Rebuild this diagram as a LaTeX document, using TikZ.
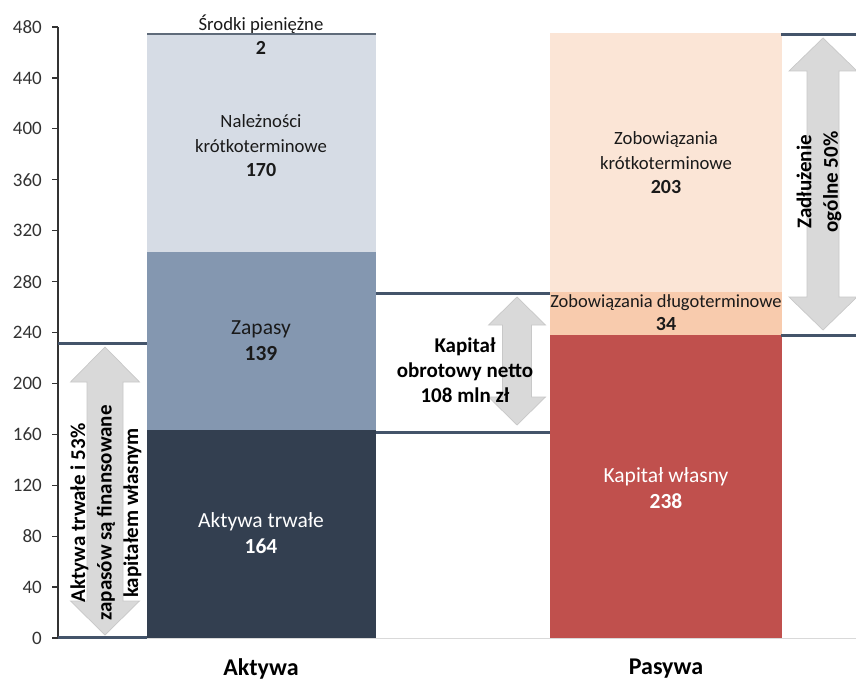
\documentclass[tikz,border=0pt]{standalone}
\usepackage{fontspec}
\setmainfont{Carlito}
\definecolor{atC}{HTML}{333F50}
\definecolor{zapC}{HTML}{8497B0}
\definecolor{nalC}{HTML}{D6DCE5}
\definecolor{srC}{HTML}{5F6B7A}
\definecolor{kwC}{HTML}{C0504D}
\definecolor{zdC}{HTML}{F8CBAD}
\definecolor{zkC}{HTML}{FBE5D6}
\definecolor{lnC}{HTML}{44546A}
\definecolor{arC}{HTML}{D9D9D9}
\definecolor{arB}{HTML}{C8C8C8}
\definecolor{txC}{HTML}{1A1A1A}
\definecolor{baseC}{HTML}{D9D9D9}
\newcommand{\valS}[1]{{\bfseries\fontsize{20}{24.5}\selectfont #1}}
\begin{document}
\begin{tikzpicture}[x=1pt,y=-1pt,
  lbl/.style={align=center,font=\fontsize{18.7}{24.5}\selectfont,text=txC,inner sep=0pt},
  biglbl/.style={align=center,font=\fontsize{21.5}{26}\selectfont,text=txC,inner sep=0pt},
  wlbl/.style={biglbl,text=white},
  arrtxt/.style={align=center,font=\bfseries\fontsize{21}{26.5}\selectfont,text=black,inner sep=0pt},
  cat/.style={font=\bfseries\fontsize{24}{26}\selectfont,text=black,inner sep=0pt},
  tick/.style={anchor=east,font=\fontsize{19}{22}\selectfont,text=black!80,inner sep=0pt},
  refline/.style={draw=lnC,line width=3pt},
  blockarrow/.style={fill=arC,draw=arB,line width=0.7pt,line join=miter}]
\useasboundingbox (0,0) rectangle (856,682);
\fill[white] (0,0) rectangle (856,682);

% baseline
\coordinate (b0) at (58,638);
\coordinate (b1) at (856,638);
\draw[baseC,line width=1pt] (b0) -- (b1);

% axis
\coordinate (ax0) at (58,638);
\coordinate (ax1) at (58,27);
\draw[black!80,line width=1.3pt] (ax0) -- (ax1);
\foreach \v in {0,40,...,480}{
  \pgfmathsetmacro\yy{638-1.27292*\v}
  \draw[black!80,line width=1.3pt] (52,\yy) -- (58,\yy);
  \node[tick] (t\v) at (42,\yy) {\v};
}

% left bar (Aktywa)
\fill[atC]  (147,429.5) rectangle (376,638);
\fill[zapC] (147,252.3) rectangle (376,429.5);
\fill[nalC] (147,35.5) rectangle (376,252.3);
\fill[srC]  (147,33) rectangle (376,35.5);

% right bar (Pasywa)
\fill[kwC] (550,335) rectangle (782,638);
\fill[zdC] (550,291.7) rectangle (782,335);
\fill[zkC] (550,33.3) rectangle (782,291.7);

% reference lines
\coordinate (l1a) at (58,343);  \coordinate (l1b) at (147,343);
\coordinate (l2a) at (58,637);  \coordinate (l2b) at (147,637);
\coordinate (m1a) at (376,293); \coordinate (m1b) at (550,293);
\coordinate (m2a) at (376,432); \coordinate (m2b) at (550,432);
\coordinate (r1a) at (781,35);  \coordinate (r1b) at (856,35);
\coordinate (r2a) at (781,335); \coordinate (r2b) at (856,335);
\draw[refline] (l1a) -- (l1b);
\draw[refline] (l2a) -- (l2b);
\draw[refline] (m1a) -- (m1b);
\draw[refline] (m2a) -- (m2b);
\draw[refline] (r1a) -- (r1b);
\draw[refline] (r2a) -- (r2b);

% block arrows
\path[blockarrow] (105,347) -- (139.5,382) -- (123,382) -- (123,601) -- (139.5,601)
  -- (105,635) -- (70.5,601) -- (87,601) -- (87,382) -- (70.5,382) -- cycle;
\path[blockarrow] (517,297) -- (545.5,325) -- (531.5,325) -- (531.5,397) -- (545.5,397)
  -- (517,425) -- (488.5,397) -- (502.5,397) -- (502.5,325) -- (488.5,325) -- cycle;
\path[blockarrow] (823,38) -- (857,71) -- (839,71) -- (839,297) -- (857,297)
  -- (823,330) -- (789,297) -- (807,297) -- (807,71) -- (789,71) -- cycle;

% arrow texts
\node[arrtxt,rotate=90] (txtL) at (106,513) {Aktywa trwałe i 53\%\\zapasów są finansowane\\kapitałem własnym};
\node[arrtxt,font=\bfseries\fontsize{21}{25}\selectfont] (txtM) at (465,370) {Kapitał\\obrotowy netto\\108 mln zł};
\node[arrtxt,rotate=90] (txtR) at (819,182) {Zadłużenie\\ogólne 50\%};

% bar labels
\node[lbl] (sr) at (261,24) {Środki pieniężne};
\node[lbl] (srv) at (261,48) {\valS{2}};
\node[lbl] (nal) at (261,146) {Należności\\krótkoterminowe\\\valS{170}};
\node[biglbl] (zap) at (261,341) {Zapasy\\\textbf{139}};
\node[wlbl] (at) at (261,533) {Aktywa trwałe\\\textbf{164}};
\node[lbl] (zk) at (666,163) {Zobowiązania\\krótkoterminowe\\\valS{203}};
\node[lbl,font=\fontsize{18.5}{23}\selectfont] (zd) at (666,313) {Zobowiązania długoterminowe\\\valS{34}};
\node[wlbl] (kw) at (666,488) {Kapitał własny\\\textbf{238}};

% categories
\node[cat] (ca) at (261,669) {Aktywa};
\node[cat] (cp) at (666,669) {Pasywa};
\end{tikzpicture}
\end{document}
